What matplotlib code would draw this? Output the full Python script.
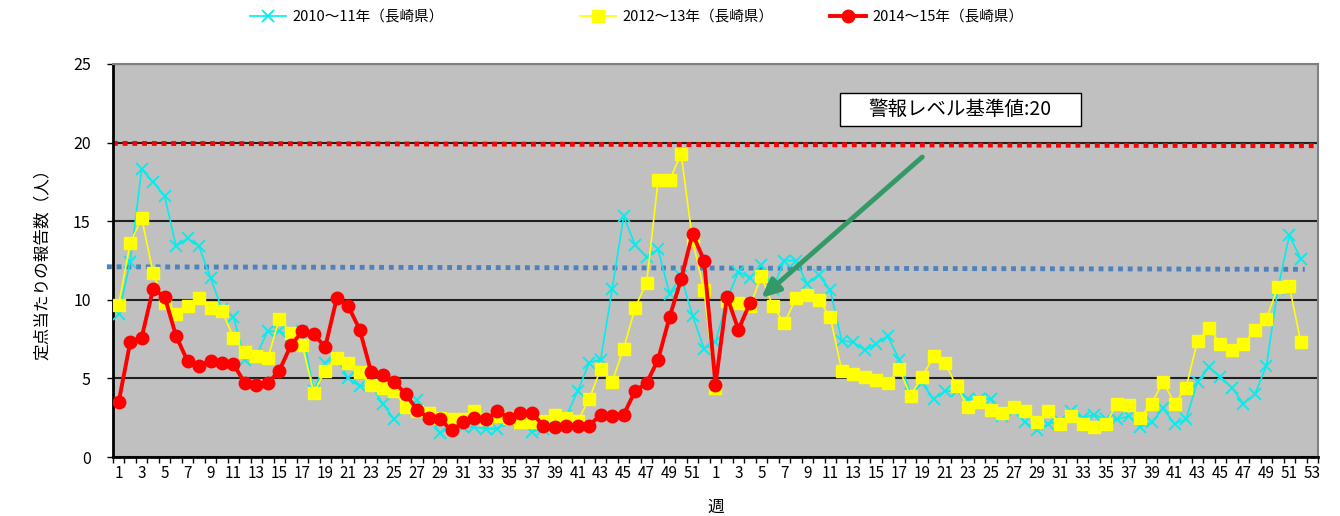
import numpy as np
import matplotlib
matplotlib.use("Agg")
from matplotlib import pyplot as plt
from matplotlib.patches import Rectangle

plt.rcParams['font.family'] = ['Noto Sans CJK JP', 'DejaVu Sans']

# 週 (2シーズン分: 1-52週, 1-53週)
weeks = list(range(1, 53)) + list(range(1, 54))

s2010 = [9.1, 12.4, 18.3, 17.5, 16.6, 13.4, 13.9, 13.4, 11.4, 9.4, 8.9, 6.2, 6.5, 8.0,
         8.0, 7.7, 8.0, 4.2, 6.0, 6.3, 5.0, 4.5, 4.6, 3.4, 2.4, 3.1, 3.6, 2.7, 1.5, 2.0,
         1.9, 1.9, 1.8, 1.8, 2.3, 2.2, 1.6, 1.8, 2.4, 2.6, 4.2, 6.0, 6.2, 10.7, 15.3,
         13.5, 12.7, 13.2, 10.4, 11.5, 9.0, 6.9,
         7.3, 10.0, 11.8, 11.4, 12.2, 10.7, 12.5, 12.5, 11.0, 11.6, 10.6, 7.4, 7.3, 6.8,
         7.2, 7.7, 6.2, 4.0, 4.7, 3.7, 4.2, 4.2, 3.7, 3.7, 3.7, 2.6, 2.9, 2.2, 1.7, 2.1,
         2.3, 2.9, 2.5, 2.7, 2.4, 2.4, 2.6, 1.9, 2.2, 3.1, 2.1, 2.4, 4.8, 5.7, 5.1, 4.4,
         3.4, 4.0, 5.8, 10.7, 14.1, 12.6]

s2012 = [9.7, 13.6, 15.2, 11.7, 9.8, 9.1, 9.6, 10.1, 9.5, 9.3, 7.6, 6.7, 6.4, 6.3,
         8.8, 7.9, 7.1, 4.1, 5.5, 6.3, 6.0, 5.4, 4.6, 4.4, 4.2, 3.2, 2.9, 2.8, 2.5, 2.4,
         2.4, 2.9, 2.4, 2.6, 2.5, 2.2, 2.2, 2.3, 2.7, 2.5, 2.3, 3.7, 5.6, 4.8, 6.9, 9.5,
         11.1, 17.6, 17.6, 19.3, 13.8, 10.6,
         4.4, 9.9, 9.8, 9.6, 11.5, 9.6, 8.5, 10.1, 10.3, 10.0, 8.9, 5.5, 5.3, 5.1, 4.9,
         4.7, 5.6, 3.9, 5.1, 6.4, 6.0, 4.5, 3.2, 3.5, 3.0, 2.8, 3.2, 2.9, 2.2, 2.9, 2.1,
         2.6, 2.1, 1.9, 2.1, 3.4, 3.3, 2.5, 3.4, 4.8, 3.4, 4.4, 7.4, 8.2, 7.2, 6.8, 7.2,
         8.1, 8.8, 10.8, 10.9, 7.3]

s2014 = [3.5, 7.3, 7.6, 10.7, 10.2, 7.7, 6.1, 5.8, 6.1, 6.0, 5.9, 4.7, 4.6, 4.7, 5.5,
         7.1, 8.0, 7.8, 7.0, 10.1, 9.6, 8.1, 5.4, 5.2, 4.8, 4.0, 3.0, 2.5, 2.4, 1.7, 2.2,
         2.5, 2.4, 2.9, 2.5, 2.8, 2.8, 2.0, 1.9, 2.0, 2.0, 2.0, 2.7, 2.6, 2.7, 4.2, 4.7,
         6.2, 8.9, 11.3, 14.2, 12.5,
         4.6, 10.2, 8.1, 9.8]

labels = ['2010～11年（長崎県）', '2012～13年（長崎県）', '2014～15年（長崎県）']
alarm = 20
avg_line = [12.1, 11.94]

fig = plt.figure(figsize=(13.4, 5.16), dpi=100)
ax = fig.add_axes([0.0843, 0.1143, 0.8993, 0.7617])
ax.set_facecolor('#C0C0C0')

x = np.arange(len(weeks))
l1, = ax.plot(x[:len(s2010)], s2010, color='#00EEEE', lw=1.2, marker='x', ms=8, mew=1.3,
              zorder=3)
l2, = ax.plot(x[:len(s2012)], s2012, color='#FFFF00', lw=1.2, marker='s', ms=8, zorder=4)
l3, = ax.plot(x[:len(s2014)], s2014, color='#FF0000', lw=2.8, marker='o', ms=9, zorder=5)

# 基準線
ax.plot([0, 1], [alarm - 0.05, alarm - 0.2], transform=ax.get_yaxis_transform(),
        color='#FF0000', lw=3.5, ls=(0, (1, 1)), zorder=2, clip_on=False)
ax.plot([-0.005, 0.989], avg_line, transform=ax.get_yaxis_transform(),
        color='#4F81BD', lw=3.5, ls=(0, (1, 1)), zorder=2, clip_on=False)

ax.annotate('', xy=(55.8, 10.0), xytext=(70.2, 19.2),
            arrowprops=dict(arrowstyle='-|>,head_length=1.1,head_width=0.5',
                            color='#339966', lw=3.5), zorder=6)
ax.add_patch(Rectangle((0.603, 0.842), 0.200, 0.084, transform=ax.transAxes,
                       fc='white', ec='black', lw=1, zorder=7))
ax.text(0.703, 0.884, '警報レベル基準値:20', transform=ax.transAxes, fontsize=14,
        ha='center', va='center', zorder=8)

ax.set_ylim(0, 25)
ax.set_xlim(-0.5, len(weeks) - 0.5)
ax.set_yticks([0, 5, 10, 15, 20, 25])
ax.yaxis.grid(True, color='#202020', lw=1.5)
ax.set_axisbelow(True)

ax.set_xticks(x[::2])
ax.set_xticklabels([str(w) for w in weeks[::2]], fontsize=11)
ax.set_xticks(np.arange(len(weeks) + 1) - 0.5, minor=True)
ax.tick_params(axis='x', which='major', length=0, pad=6)
ax.tick_params(axis='x', which='minor', length=4, width=1, direction='out')
ax.tick_params(axis='y', labelsize=11.5, length=4, width=1, pad=12)

for s in ['left', 'bottom']:
    ax.spines[s].set_linewidth(2)
    ax.spines[s].set_color('black')
for s in ['top', 'right']:
    ax.spines[s].set_color('#808080')
    ax.spines[s].set_linewidth(1.5)

ax.set_ylabel('定点当たりの報告数（人）', fontsize=12, labelpad=16)
ax.set_xlabel('週', fontsize=12, labelpad=12)

# 凡例（それぞれ位置を合わせる）
for h, lab, px in zip([l1, l2, l3], labels, [250, 580, 830]):
    fig.legend([h], [lab], loc='center left', bbox_to_anchor=(px / 1340, 1 - 17 / 516),
               frameon=False, fontsize=10.5, handlelength=2.5, handletextpad=0.4,
               borderpad=0, borderaxespad=0)

plt.savefig('out.png')
